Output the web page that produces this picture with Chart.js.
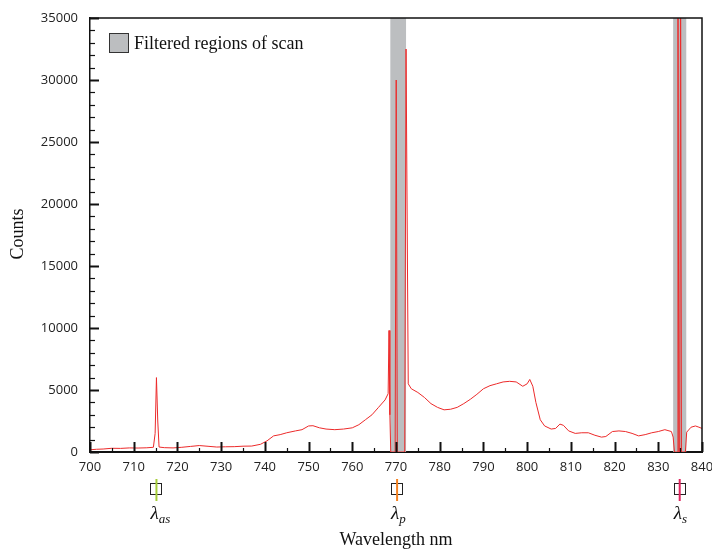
<!DOCTYPE html>
<html>
<head>
<meta charset="utf-8">
<script src="https://cdn.jsdelivr.net/npm/chart.js"></script>
<style>
  html, body { margin: 0; padding: 0; background: #fff; }
  #wrap { width: 712px; height: 552px; }
</style>
</head>
<body>
<div id="wrap"><canvas id="chart"></canvas></div>
<script>
// spectrum
const wavelengths = [
  700.0, 701.5, 703, 705, 707, 709, 711, 713, 714.5, 714.9, 715.2, 715.5, 715.8,
  717, 719, 721, 723, 725, 727, 729, 731, 733, 735, 737, 739, 740.5, 742, 743.5,
  745, 747, 748.5, 750, 751, 752.5, 754, 756, 758, 760, 761.5, 763, 764.5, 766,
  767.5, 768.2, 768.4, 768.6, 768.8, 769.8, 770.05, 770.3, 772.0, 772.3, 772.8,
  773.5, 775, 776.5, 778, 779.5, 781, 782.5, 784, 785.5, 787, 788.5, 790, 791.5,
  793, 794.5, 796, 797.5, 799, 800, 800.6, 801.3, 802, 803, 804, 805.5, 806.5,
  807.5, 808.3, 809.5, 811, 812.5, 814, 815.5, 817, 818, 819.5, 821, 822.5, 824,
  825.5, 827, 828.5, 830, 831.5, 833, 833.4, 833.7, 834.3, 834.5, 834.7, 834.9,
  835.1, 835.3, 836.2, 836.5, 837.5, 838.5, 839.3, 840
];
const counts = [
  180, 220, 240, 300, 290, 330, 320, 340, 380, 1500, 6000, 2500, 400,
  350, 330, 380, 450, 520, 460, 400, 420, 430, 470, 480, 620, 900, 1300, 1400,
  1550, 1700, 1800, 2100, 2120, 1950, 1850, 1800, 1850, 1950, 2200, 2600, 3000, 3600,
  4200, 4700, 9800, 3000, 0, 0, 30000, 0, 0, 32500, 5500,
  5100, 4800, 4400, 3900, 3600, 3400, 3450, 3600, 3900, 4250, 4650, 5100, 5350,
  5500, 5650, 5700, 5650, 5300, 5500, 5850, 5300, 4000, 2600, 2100, 1850, 1900,
  2250, 2150, 1700, 1500, 1550, 1550, 1350, 1200, 1250, 1650, 1700, 1650, 1500,
  1300, 1400, 1550, 1650, 1800, 1650, 1200, 0, 0, 40000, 0, 0,
  40000, 0, 0, 1600, 2000, 2100, 2000, 1900
];

// grey bands (start, end) in nm
const filteredStart = [768.7, 833.4];
const filteredEnd = [772.3, 836.4];

// markers under the axis
const markerWavelengths = [715.2, 770.25, 834.9];
const markerColors = ['#a6ce39', '#f58220', '#e0245e'];
const markerSubs = ['as', 'p', 's'];

const xMin = 700, xMax = 840, xStep = 5;
const yMin = 0, yMax = 35000, yStep = 1000;

const points = wavelengths.map((w, i) => ({ x: w, y: counts[i] }));

const serif = '"Liberation Serif", "Times New Roman", serif';
const sans = '"Open Sans", "Noto Sans", sans-serif';

const decoPlugin = {
  id: 'deco',
  beforeDatasetsDraw(chart) {
    const { ctx, chartArea: a, scales: { x } } = chart;
    ctx.save();
    ctx.fillStyle = '#bcbec0';
    for (let i = 0; i < filteredStart.length; i++) {
      const x0 = x.getPixelForValue(filteredStart[i]);
      const x1 = x.getPixelForValue(filteredEnd[i]);
      ctx.fillRect(x0, a.top, x1 - x0, a.bottom - a.top);
    }
    ctx.restore();
  },
  afterDraw(chart) {
    const { ctx, chartArea: a, scales: { x, y } } = chart;
    ctx.save();
    ctx.strokeStyle = '#111';

    // frame top + right
    ctx.lineWidth = 1.5;
    ctx.beginPath();
    ctx.moveTo(a.left, a.top);
    ctx.lineTo(a.right, a.top);
    ctx.lineTo(a.right, a.bottom);
    ctx.stroke();

    // inward ticks
    x.ticks.forEach(t => {
      const px = Math.round(x.getPixelForValue(t.value)) + 0.5;
      const major = t.value % 10 === 0;
      ctx.lineWidth = major ? 2 : 1.2;
      ctx.beginPath();
      ctx.moveTo(px, a.bottom);
      ctx.lineTo(px, a.bottom - (major ? 10 : 4));
      ctx.stroke();
    });
    y.ticks.forEach(t => {
      const py = Math.round(y.getPixelForValue(t.value)) + 0.5;
      const major = t.value % 5000 === 0;
      ctx.lineWidth = major ? 2 : 1.2;
      ctx.beginPath();
      ctx.moveTo(a.left, py);
      ctx.lineTo(a.left + (major ? 9 : 5), py);
      ctx.stroke();
    });

    // legend
    ctx.fillStyle = '#bcbec0';
    ctx.fillRect(109, 33, 20, 20);
    ctx.lineWidth = 1;
    ctx.strokeStyle = '#333';
    ctx.strokeRect(109.5, 33.5, 19, 19);
    ctx.fillStyle = '#111';
    ctx.font = '18px ' + serif;
    ctx.textBaseline = 'middle';
    ctx.textAlign = 'left';
    ctx.fillText('Filtered regions of scan', 134, 44);

    // markers under the axis
    markerWavelengths.forEach((w, i) => {
      const px = x.getPixelForValue(w);
      ctx.strokeStyle = '#222';
      ctx.lineWidth = 1;
      ctx.strokeRect(Math.round(px) - 5.5, 483.5, 11, 11);
      ctx.strokeStyle = markerColors[i];
      ctx.lineWidth = 2;
      ctx.beginPath();
      ctx.moveTo(px, 479);
      ctx.lineTo(px, 501);
      ctx.stroke();
      ctx.fillStyle = '#111';
      ctx.textBaseline = 'alphabetic';
      ctx.font = 'italic 19px ' + serif;
      const lx = px - 6;
      ctx.fillText('λ', lx, 519);
      const lw = ctx.measureText('λ').width;
      ctx.font = 'italic 13px ' + serif;
      ctx.fillText(markerSubs[i], lx + lw, 523);
    });

    // axis titles
    ctx.fillStyle = '#111';
    ctx.font = '18px ' + serif;
    ctx.textAlign = 'center';
    ctx.textBaseline = 'middle';
    ctx.fillText('Wavelength nm', (a.left + a.right) / 2, 540);
    ctx.translate(18, 234);
    ctx.rotate(-Math.PI / 2);
    ctx.fillText('Counts', 0, 0);
    ctx.restore();
  }
};

new Chart(document.getElementById('chart'), {
  type: 'line',
  data: {
    datasets: [{
      data: points,
      borderColor: '#ec2a2a',
      borderWidth: 1,
      pointRadius: 0,
      tension: 0,
      fill: false
    }]
  },
  options: {
    responsive: true,
    maintainAspectRatio: false,
    animation: false,
    layout: { padding: { top: 18, right: 10, left: 0, bottom: 0 } },
    plugins: { legend: { display: false }, tooltip: { enabled: false } },
    scales: {
      x: {
        type: 'linear',
        min: xMin, max: xMax,
        grid: { display: false, drawTicks: false },
        border: { display: true, color: '#111', width: 2 },
        ticks: {
          stepSize: xStep, autoSkip: false, maxRotation: 0, padding: 7,
          color: '#222', font: { family: sans, size: 13 },
          callback: v => (v % 10 === 0 ? String(v) : '')
        },
        afterFit: s => { s.height = 100; s.paddingLeft = 0; s.paddingRight = 0; }
      },
      y: {
        min: yMin, max: yMax,
        grid: { display: false, drawTicks: false },
        border: { display: true, color: '#111', width: 1.5 },
        ticks: {
          stepSize: yStep, autoSkip: false, padding: 12,
          color: '#222', font: { family: sans, size: 13 },
          callback: v => (v % 5000 === 0 ? String(v) : '')
        },
        afterFit: s => { s.width = 90; s.paddingTop = 0; s.paddingBottom = 0; }
      }
    }
  },
  plugins: [decoPlugin]
});
</script>
</body>
</html>
